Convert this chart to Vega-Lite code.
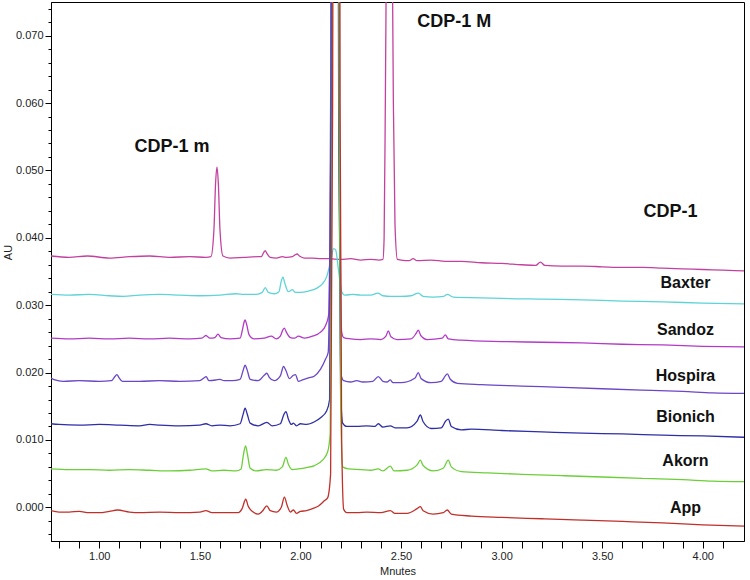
{
"$schema": "https://vega.github.io/schema/vega-lite/v6.json",
"width": 693, "height": 539,
"autosize": "none",
"padding": {"left": 51, "top": 2, "right": 6, "bottom": 39},
"background": "white",
"config": {"view": {"stroke": "black", "strokeWidth": 1}, "font": "Liberation Sans"},
"datasets": {
"traces": [
{"s":"CDP-1","t":0.76,"v":0.0373},{"s":"CDP-1","t":0.85,"v":0.0371},{"s":"CDP-1","t":0.94,"v":0.0373},{"s":"CDP-1","t":1.05,"v":0.0370},{"s":"CDP-1","t":1.15,"v":0.0372},{"s":"CDP-1","t":1.25,"v":0.0373},{"s":"CDP-1","t":1.35,"v":0.0371},{"s":"CDP-1","t":1.45,"v":0.0372},{"s":"CDP-1","t":1.53,"v":0.0371},
{"s":"CDP-1","t":1.555,"v":0.0372},{"s":"CDP-1","t":1.57,"v":0.0412},{"s":"CDP-1","t":1.578,"v":0.048},{"s":"CDP-1","t":1.585,"v":0.0505},{"s":"CDP-1","t":1.592,"v":0.048},{"s":"CDP-1","t":1.6,"v":0.0412},{"s":"CDP-1","t":1.615,"v":0.0373},
{"s":"CDP-1","t":1.65,"v":0.0370},{"s":"CDP-1","t":1.72,"v":0.0371},{"s":"CDP-1","t":1.79,"v":0.0372},{"s":"CDP-1","t":1.805,"v":0.0372},{"s":"CDP-1","t":1.817,"v":0.0378},{"s":"CDP-1","t":1.825,"v":0.0381},{"s":"CDP-1","t":1.833,"v":0.0377},{"s":"CDP-1","t":1.85,"v":0.0371},{"s":"CDP-1","t":1.88,"v":0.0370},{"s":"CDP-1","t":1.91,"v":0.0372},{"s":"CDP-1","t":1.93,"v":0.0371},{"s":"CDP-1","t":1.96,"v":0.0372},{"s":"CDP-1","t":1.975,"v":0.0375},{"s":"CDP-1","t":1.983,"v":0.0376},{"s":"CDP-1","t":1.995,"v":0.0373},{"s":"CDP-1","t":2.02,"v":0.0370},{"s":"CDP-1","t":2.06,"v":0.0370},{"s":"CDP-1","t":2.1,"v":0.0369},{"s":"CDP-1","t":2.14,"v":0.0369},{"s":"CDP-1","t":2.2,"v":0.0368},{"s":"CDP-1","t":2.25,"v":0.0369},{"s":"CDP-1","t":2.3,"v":0.0367},{"s":"CDP-1","t":2.35,"v":0.0368},{"s":"CDP-1","t":2.39,"v":0.0367},
{"s":"CDP-1","t":2.41,"v":0.0368},{"s":"CDP-1","t":2.416,"v":0.040},{"s":"CDP-1","t":2.422,"v":0.060},{"s":"CDP-1","t":2.428,"v":0.085},{"s":"CDP-1","t":2.442,"v":0.13},{"s":"CDP-1","t":2.456,"v":0.085},{"s":"CDP-1","t":2.462,"v":0.060},{"s":"CDP-1","t":2.47,"v":0.042},{"s":"CDP-1","t":2.482,"v":0.0368},
{"s":"CDP-1","t":2.5,"v":0.0367},{"s":"CDP-1","t":2.54,"v":0.0366},{"s":"CDP-1","t":2.56,"v":0.0369},{"s":"CDP-1","t":2.58,"v":0.0366},{"s":"CDP-1","t":2.65,"v":0.0367},{"s":"CDP-1","t":2.72,"v":0.0365},{"s":"CDP-1","t":2.8,"v":0.0365},{"s":"CDP-1","t":2.9,"v":0.0363},{"s":"CDP-1","t":3.0,"v":0.0362},{"s":"CDP-1","t":3.1,"v":0.0360},{"s":"CDP-1","t":3.17,"v":0.0359},{"s":"CDP-1","t":3.193,"v":0.0364},{"s":"CDP-1","t":3.215,"v":0.0359},{"s":"CDP-1","t":3.3,"v":0.0358},{"s":"CDP-1","t":3.4,"v":0.0358},{"s":"CDP-1","t":3.5,"v":0.0357},{"s":"CDP-1","t":3.6,"v":0.0356},{"s":"CDP-1","t":3.7,"v":0.0356},{"s":"CDP-1","t":3.8,"v":0.0355},{"s":"CDP-1","t":3.9,"v":0.0354},{"s":"CDP-1","t":4.0,"v":0.0353},{"s":"CDP-1","t":4.1,"v":0.0352},{"s":"CDP-1","t":4.205,"v":0.0351},

{"s":"Baxter","t":0.76,"v":0.0316},{"s":"Baxter","t":0.85,"v":0.0315},{"s":"Baxter","t":0.95,"v":0.0316},{"s":"Baxter","t":1.05,"v":0.0314},{"s":"Baxter","t":1.12,"v":0.0313},{"s":"Baxter","t":1.2,"v":0.0315},{"s":"Baxter","t":1.3,"v":0.0316},{"s":"Baxter","t":1.4,"v":0.0315},{"s":"Baxter","t":1.5,"v":0.0314},{"s":"Baxter","t":1.6,"v":0.0315},{"s":"Baxter","t":1.68,"v":0.0317},{"s":"Baxter","t":1.72,"v":0.0316},{"s":"Baxter","t":1.78,"v":0.0316},{"s":"Baxter","t":1.81,"v":0.0319},{"s":"Baxter","t":1.825,"v":0.0326},{"s":"Baxter","t":1.84,"v":0.0319},{"s":"Baxter","t":1.87,"v":0.0317},{"s":"Baxter","t":1.893,"v":0.0320},{"s":"Baxter","t":1.905,"v":0.0336},{"s":"Baxter","t":1.913,"v":0.0342},{"s":"Baxter","t":1.921,"v":0.0334},{"s":"Baxter","t":1.94,"v":0.0320},{"s":"Baxter","t":1.96,"v":0.0323},{"s":"Baxter","t":1.975,"v":0.0319},{"s":"Baxter","t":2.0,"v":0.0319},{"s":"Baxter","t":2.04,"v":0.0321},{"s":"Baxter","t":2.08,"v":0.0325},{"s":"Baxter","t":2.11,"v":0.0332},{"s":"Baxter","t":2.13,"v":0.0342},{"s":"Baxter","t":2.15,"v":0.0365},{"s":"Baxter","t":2.165,"v":0.0384},{"s":"Baxter","t":2.175,"v":0.0382},{"s":"Baxter","t":2.19,"v":0.0350},{"s":"Baxter","t":2.205,"v":0.0320},{"s":"Baxter","t":2.22,"v":0.0315},{"s":"Baxter","t":2.26,"v":0.0316},{"s":"Baxter","t":2.3,"v":0.0315},{"s":"Baxter","t":2.35,"v":0.0315},{"s":"Baxter","t":2.385,"v":0.0318},{"s":"Baxter","t":2.41,"v":0.0314},{"s":"Baxter","t":2.45,"v":0.0313},{"s":"Baxter","t":2.5,"v":0.0313},{"s":"Baxter","t":2.55,"v":0.0314},{"s":"Baxter","t":2.586,"v":0.0318},{"s":"Baxter","t":2.61,"v":0.0313},{"s":"Baxter","t":2.66,"v":0.0312},{"s":"Baxter","t":2.71,"v":0.0313},{"s":"Baxter","t":2.73,"v":0.0316},{"s":"Baxter","t":2.76,"v":0.0312},{"s":"Baxter","t":2.9,"v":0.0311},{"s":"Baxter","t":3.0,"v":0.0310},{"s":"Baxter","t":3.2,"v":0.0309},{"s":"Baxter","t":3.4,"v":0.0308},{"s":"Baxter","t":3.6,"v":0.0306},{"s":"Baxter","t":3.8,"v":0.0305},{"s":"Baxter","t":4.0,"v":0.0303},{"s":"Baxter","t":4.205,"v":0.0302},

{"s":"Sandoz","t":0.76,"v":0.0251},{"s":"Sandoz","t":0.85,"v":0.0250},{"s":"Sandoz","t":0.95,"v":0.0251},{"s":"Sandoz","t":1.05,"v":0.0250},{"s":"Sandoz","t":1.15,"v":0.0251},{"s":"Sandoz","t":1.25,"v":0.0250},{"s":"Sandoz","t":1.35,"v":0.0251},{"s":"Sandoz","t":1.45,"v":0.0250},{"s":"Sandoz","t":1.51,"v":0.0251},{"s":"Sandoz","t":1.53,"v":0.0255},{"s":"Sandoz","t":1.55,"v":0.0251},{"s":"Sandoz","t":1.575,"v":0.0252},{"s":"Sandoz","t":1.59,"v":0.0257},{"s":"Sandoz","t":1.605,"v":0.0252},{"s":"Sandoz","t":1.65,"v":0.0250},{"s":"Sandoz","t":1.7,"v":0.0251},{"s":"Sandoz","t":1.712,"v":0.0264},{"s":"Sandoz","t":1.72,"v":0.0275},{"s":"Sandoz","t":1.725,"v":0.0278},{"s":"Sandoz","t":1.732,"v":0.0272},{"s":"Sandoz","t":1.745,"v":0.0256},{"s":"Sandoz","t":1.77,"v":0.0250},{"s":"Sandoz","t":1.82,"v":0.0251},{"s":"Sandoz","t":1.855,"v":0.0254},{"s":"Sandoz","t":1.88,"v":0.0250},{"s":"Sandoz","t":1.9,"v":0.0254},{"s":"Sandoz","t":1.912,"v":0.0263},{"s":"Sandoz","t":1.92,"v":0.0266},{"s":"Sandoz","t":1.93,"v":0.0260},{"s":"Sandoz","t":1.95,"v":0.0252},{"s":"Sandoz","t":1.97,"v":0.0251},{"s":"Sandoz","t":1.99,"v":0.0254},{"s":"Sandoz","t":2.02,"v":0.0251},{"s":"Sandoz","t":2.06,"v":0.0254},{"s":"Sandoz","t":2.1,"v":0.0260},{"s":"Sandoz","t":2.125,"v":0.0270},{"s":"Sandoz","t":2.14,"v":0.0285},{"s":"Sandoz","t":2.152,"v":0.06},{"s":"Sandoz","t":2.165,"v":0.3},{"s":"Sandoz","t":2.18,"v":0.3},{"s":"Sandoz","t":2.195,"v":0.05},{"s":"Sandoz","t":2.205,"v":0.0260},{"s":"Sandoz","t":2.215,"v":0.0252},{"s":"Sandoz","t":2.25,"v":0.0250},{"s":"Sandoz","t":2.3,"v":0.0249},{"s":"Sandoz","t":2.35,"v":0.0250},{"s":"Sandoz","t":2.4,"v":0.0249},{"s":"Sandoz","t":2.425,"v":0.0254},{"s":"Sandoz","t":2.437,"v":0.0262},{"s":"Sandoz","t":2.45,"v":0.0253},{"s":"Sandoz","t":2.48,"v":0.0249},{"s":"Sandoz","t":2.55,"v":0.0250},{"s":"Sandoz","t":2.575,"v":0.0258},{"s":"Sandoz","t":2.586,"v":0.0263},{"s":"Sandoz","t":2.598,"v":0.0255},{"s":"Sandoz","t":2.63,"v":0.0249},{"s":"Sandoz","t":2.705,"v":0.0251},{"s":"Sandoz","t":2.72,"v":0.0256},{"s":"Sandoz","t":2.735,"v":0.0250},{"s":"Sandoz","t":2.8,"v":0.0248},{"s":"Sandoz","t":3.0,"v":0.0246},{"s":"Sandoz","t":3.2,"v":0.0245},{"s":"Sandoz","t":3.4,"v":0.0244},{"s":"Sandoz","t":3.6,"v":0.0242},{"s":"Sandoz","t":3.8,"v":0.0241},{"s":"Sandoz","t":4.0,"v":0.0239},{"s":"Sandoz","t":4.205,"v":0.0238},

{"s":"Hospira","t":0.76,"v":0.0192},{"s":"Hospira","t":0.78,"v":0.0189},{"s":"Hospira","t":0.82,"v":0.0187},{"s":"Hospira","t":0.9,"v":0.0188},{"s":"Hospira","t":1.0,"v":0.0187},{"s":"Hospira","t":1.06,"v":0.0188},{"s":"Hospira","t":1.08,"v":0.0195},{"s":"Hospira","t":1.088,"v":0.0197},{"s":"Hospira","t":1.097,"v":0.0193},{"s":"Hospira","t":1.115,"v":0.0187},{"s":"Hospira","t":1.2,"v":0.0187},{"s":"Hospira","t":1.3,"v":0.0188},{"s":"Hospira","t":1.4,"v":0.0187},{"s":"Hospira","t":1.5,"v":0.0188},{"s":"Hospira","t":1.52,"v":0.0192},{"s":"Hospira","t":1.531,"v":0.0194},{"s":"Hospira","t":1.545,"v":0.0188},{"s":"Hospira","t":1.58,"v":0.0189},{"s":"Hospira","t":1.6,"v":0.0190},{"s":"Hospira","t":1.62,"v":0.0188},{"s":"Hospira","t":1.66,"v":0.0188},{"s":"Hospira","t":1.7,"v":0.0190},{"s":"Hospira","t":1.715,"v":0.0203},{"s":"Hospira","t":1.725,"v":0.0211},{"s":"Hospira","t":1.735,"v":0.0204},{"s":"Hospira","t":1.75,"v":0.0190},{"s":"Hospira","t":1.79,"v":0.0188},{"s":"Hospira","t":1.82,"v":0.0196},{"s":"Hospira","t":1.833,"v":0.0199},{"s":"Hospira","t":1.845,"v":0.0193},{"s":"Hospira","t":1.87,"v":0.0188},{"s":"Hospira","t":1.9,"v":0.0195},{"s":"Hospira","t":1.916,"v":0.0209},{"s":"Hospira","t":1.928,"v":0.0203},{"s":"Hospira","t":1.945,"v":0.0191},{"s":"Hospira","t":1.965,"v":0.0196},{"s":"Hospira","t":1.975,"v":0.0197},{"s":"Hospira","t":1.99,"v":0.0187},{"s":"Hospira","t":2.01,"v":0.0189},{"s":"Hospira","t":2.04,"v":0.0192},{"s":"Hospira","t":2.07,"v":0.0195},{"s":"Hospira","t":2.1,"v":0.0205},{"s":"Hospira","t":2.125,"v":0.0220},{"s":"Hospira","t":2.138,"v":0.0230},{"s":"Hospira","t":2.15,"v":0.06},{"s":"Hospira","t":2.162,"v":0.3},{"s":"Hospira","t":2.178,"v":0.3},{"s":"Hospira","t":2.19,"v":0.06},{"s":"Hospira","t":2.2,"v":0.0200},{"s":"Hospira","t":2.215,"v":0.0188},{"s":"Hospira","t":2.25,"v":0.0186},{"s":"Hospira","t":2.28,"v":0.0188},{"s":"Hospira","t":2.31,"v":0.0186},{"s":"Hospira","t":2.36,"v":0.0187},{"s":"Hospira","t":2.387,"v":0.0194},{"s":"Hospira","t":2.41,"v":0.0187},{"s":"Hospira","t":2.43,"v":0.0186},{"s":"Hospira","t":2.447,"v":0.0189},{"s":"Hospira","t":2.46,"v":0.0185},{"s":"Hospira","t":2.5,"v":0.0185},{"s":"Hospira","t":2.57,"v":0.0192},{"s":"Hospira","t":2.586,"v":0.0200},{"s":"Hospira","t":2.6,"v":0.0191},{"s":"Hospira","t":2.65,"v":0.0185},{"s":"Hospira","t":2.7,"v":0.0187},{"s":"Hospira","t":2.72,"v":0.0195},{"s":"Hospira","t":2.73,"v":0.0198},{"s":"Hospira","t":2.745,"v":0.0190},{"s":"Hospira","t":2.78,"v":0.0184},{"s":"Hospira","t":2.9,"v":0.0182},{"s":"Hospira","t":3.1,"v":0.0180},{"s":"Hospira","t":3.3,"v":0.0178},{"s":"Hospira","t":3.5,"v":0.0176},{"s":"Hospira","t":3.7,"v":0.0174},{"s":"Hospira","t":3.9,"v":0.0172},{"s":"Hospira","t":4.05,"v":0.0170},{"s":"Hospira","t":4.205,"v":0.0169},

{"s":"Bionich","t":0.76,"v":0.0124},{"s":"Bionich","t":0.8,"v":0.0123},{"s":"Bionich","t":0.9,"v":0.0122},{"s":"Bionich","t":1.0,"v":0.0123},{"s":"Bionich","t":1.1,"v":0.0122},{"s":"Bionich","t":1.2,"v":0.0121},{"s":"Bionich","t":1.25,"v":0.0123},{"s":"Bionich","t":1.3,"v":0.0122},{"s":"Bionich","t":1.4,"v":0.0121},{"s":"Bionich","t":1.5,"v":0.0122},{"s":"Bionich","t":1.53,"v":0.0124},{"s":"Bionich","t":1.56,"v":0.0121},{"s":"Bionich","t":1.6,"v":0.0122},{"s":"Bionich","t":1.65,"v":0.0121},{"s":"Bionich","t":1.7,"v":0.0124},{"s":"Bionich","t":1.715,"v":0.0138},{"s":"Bionich","t":1.725,"v":0.0147},{"s":"Bionich","t":1.735,"v":0.0139},{"s":"Bionich","t":1.75,"v":0.0125},{"s":"Bionich","t":1.79,"v":0.0121},{"s":"Bionich","t":1.833,"v":0.0126},{"s":"Bionich","t":1.86,"v":0.0121},{"s":"Bionich","t":1.9,"v":0.0124},{"s":"Bionich","t":1.918,"v":0.0138},{"s":"Bionich","t":1.928,"v":0.0142},{"s":"Bionich","t":1.94,"v":0.0131},{"s":"Bionich","t":1.955,"v":0.0123},{"s":"Bionich","t":1.965,"v":0.0125},{"s":"Bionich","t":1.98,"v":0.0121},{"s":"Bionich","t":2.0,"v":0.0124},{"s":"Bionich","t":2.03,"v":0.0123},{"s":"Bionich","t":2.07,"v":0.0127},{"s":"Bionich","t":2.1,"v":0.0133},{"s":"Bionich","t":2.13,"v":0.0143},{"s":"Bionich","t":2.145,"v":0.0160},{"s":"Bionich","t":2.155,"v":0.06},{"s":"Bionich","t":2.167,"v":0.3},{"s":"Bionich","t":2.18,"v":0.3},{"s":"Bionich","t":2.19,"v":0.06},{"s":"Bionich","t":2.2,"v":0.0170},{"s":"Bionich","t":2.21,"v":0.0125},{"s":"Bionich","t":2.23,"v":0.0120},{"s":"Bionich","t":2.28,"v":0.0120},{"s":"Bionich","t":2.33,"v":0.0121},{"s":"Bionich","t":2.37,"v":0.0120},{"s":"Bionich","t":2.387,"v":0.0124},{"s":"Bionich","t":2.41,"v":0.0119},{"s":"Bionich","t":2.447,"v":0.0121},{"s":"Bionich","t":2.47,"v":0.0118},{"s":"Bionich","t":2.53,"v":0.0118},{"s":"Bionich","t":2.58,"v":0.0128},{"s":"Bionich","t":2.596,"v":0.0137},{"s":"Bionich","t":2.61,"v":0.0127},{"s":"Bionich","t":2.65,"v":0.0117},{"s":"Bionich","t":2.7,"v":0.0118},{"s":"Bionich","t":2.722,"v":0.0128},{"s":"Bionich","t":2.735,"v":0.0131},{"s":"Bionich","t":2.75,"v":0.0120},{"s":"Bionich","t":2.8,"v":0.0115},{"s":"Bionich","t":2.85,"v":0.0116},{"s":"Bionich","t":3.0,"v":0.0114},{"s":"Bionich","t":3.2,"v":0.0112},{"s":"Bionich","t":3.4,"v":0.0110},{"s":"Bionich","t":3.6,"v":0.0109},{"s":"Bionich","t":3.8,"v":0.0107},{"s":"Bionich","t":4.0,"v":0.0106},{"s":"Bionich","t":4.205,"v":0.0104},

{"s":"Akorn","t":0.76,"v":0.0057},{"s":"Akorn","t":0.85,"v":0.0056},{"s":"Akorn","t":0.95,"v":0.0056},{"s":"Akorn","t":1.05,"v":0.0055},{"s":"Akorn","t":1.15,"v":0.0056},{"s":"Akorn","t":1.25,"v":0.0055},{"s":"Akorn","t":1.35,"v":0.0054},{"s":"Akorn","t":1.45,"v":0.0055},{"s":"Akorn","t":1.53,"v":0.0057},{"s":"Akorn","t":1.56,"v":0.0054},{"s":"Akorn","t":1.62,"v":0.0055},{"s":"Akorn","t":1.68,"v":0.0054},{"s":"Akorn","t":1.705,"v":0.0057},{"s":"Akorn","t":1.715,"v":0.0075},{"s":"Akorn","t":1.727,"v":0.0091},{"s":"Akorn","t":1.737,"v":0.0078},{"s":"Akorn","t":1.75,"v":0.0058},{"s":"Akorn","t":1.78,"v":0.0054},{"s":"Akorn","t":1.83,"v":0.0056},{"s":"Akorn","t":1.88,"v":0.0055},{"s":"Akorn","t":1.91,"v":0.0060},{"s":"Akorn","t":1.928,"v":0.0074},{"s":"Akorn","t":1.94,"v":0.0064},{"s":"Akorn","t":1.96,"v":0.0056},{"s":"Akorn","t":1.99,"v":0.0057},{"s":"Akorn","t":2.03,"v":0.0059},{"s":"Akorn","t":2.07,"v":0.0062},{"s":"Akorn","t":2.11,"v":0.0070},{"s":"Akorn","t":2.135,"v":0.0082},{"s":"Akorn","t":2.148,"v":0.0110},{"s":"Akorn","t":2.158,"v":0.06},{"s":"Akorn","t":2.17,"v":0.3},{"s":"Akorn","t":2.182,"v":0.3},{"s":"Akorn","t":2.192,"v":0.06},{"s":"Akorn","t":2.2,"v":0.0150},{"s":"Akorn","t":2.21,"v":0.0060},{"s":"Akorn","t":2.24,"v":0.0057},{"s":"Akorn","t":2.3,"v":0.0056},{"s":"Akorn","t":2.35,"v":0.0055},{"s":"Akorn","t":2.387,"v":0.0057},{"s":"Akorn","t":2.41,"v":0.0054},{"s":"Akorn","t":2.447,"v":0.0061},{"s":"Akorn","t":2.465,"v":0.0054},{"s":"Akorn","t":2.53,"v":0.0055},{"s":"Akorn","t":2.58,"v":0.0063},{"s":"Akorn","t":2.596,"v":0.0070},{"s":"Akorn","t":2.61,"v":0.0062},{"s":"Akorn","t":2.66,"v":0.0054},{"s":"Akorn","t":2.71,"v":0.0058},{"s":"Akorn","t":2.735,"v":0.0070},{"s":"Akorn","t":2.75,"v":0.0060},{"s":"Akorn","t":2.8,"v":0.0053},{"s":"Akorn","t":2.93,"v":0.0051},{"s":"Akorn","t":3.1,"v":0.0049},{"s":"Akorn","t":3.3,"v":0.0047},{"s":"Akorn","t":3.5,"v":0.0045},{"s":"Akorn","t":3.7,"v":0.0043},{"s":"Akorn","t":3.9,"v":0.0041},{"s":"Akorn","t":4.05,"v":0.0039},{"s":"Akorn","t":4.205,"v":0.0038},

{"s":"App","t":0.76,"v":-0.0005},{"s":"App","t":0.8,"v":-0.0007},{"s":"App","t":0.85,"v":-0.0007},{"s":"App","t":0.9,"v":-0.0006},{"s":"App","t":0.95,"v":-0.0008},{"s":"App","t":1.0,"v":-0.0008},{"s":"App","t":1.05,"v":-0.0006},{"s":"App","t":1.09,"v":-0.0004},{"s":"App","t":1.15,"v":-0.0007},{"s":"App","t":1.2,"v":-0.0008},{"s":"App","t":1.3,"v":-0.0007},{"s":"App","t":1.4,"v":-0.0008},{"s":"App","t":1.5,"v":-0.0007},{"s":"App","t":1.53,"v":-0.0005},{"s":"App","t":1.56,"v":-0.0008},{"s":"App","t":1.62,"v":-0.0008},{"s":"App","t":1.69,"v":-0.0008},{"s":"App","t":1.71,"v":-0.0002},{"s":"App","t":1.728,"v":0.0012},{"s":"App","t":1.74,"v":0.0002},{"s":"App","t":1.76,"v":-0.0006},{"s":"App","t":1.79,"v":-0.0010},{"s":"App","t":1.81,"v":-0.0006},{"s":"App","t":1.833,"v":0.0002},{"s":"App","t":1.85,"v":-0.0005},{"s":"App","t":1.88,"v":-0.0007},{"s":"App","t":1.905,"v":0.0000},{"s":"App","t":1.92,"v":0.0015},{"s":"App","t":1.935,"v":0.0002},{"s":"App","t":1.95,"v":-0.0007},{"s":"App","t":1.965,"v":-0.0004},{"s":"App","t":1.98,"v":-0.0009},{"s":"App","t":2.0,"v":-0.0006},{"s":"App","t":2.03,"v":-0.0005},{"s":"App","t":2.06,"v":-0.0002},{"s":"App","t":2.09,"v":0.0002},{"s":"App","t":2.12,"v":0.0010},{"s":"App","t":2.135,"v":0.0014},{"s":"App","t":2.15,"v":0.005},{"s":"App","t":2.16,"v":0.06},{"s":"App","t":2.172,"v":0.3},{"s":"App","t":2.185,"v":0.3},{"s":"App","t":2.197,"v":0.06},{"s":"App","t":2.205,"v":0.0100},{"s":"App","t":2.215,"v":-0.0003},{"s":"App","t":2.23,"v":-0.0008},{"s":"App","t":2.28,"v":-0.0008},{"s":"App","t":2.33,"v":-0.0007},{"s":"App","t":2.4,"v":-0.0008},{"s":"App","t":2.447,"v":-0.0005},{"s":"App","t":2.47,"v":-0.0009},{"s":"App","t":2.53,"v":-0.0009},{"s":"App","t":2.58,"v":-0.0002},{"s":"App","t":2.596,"v":0.0001},{"s":"App","t":2.61,"v":-0.0005},{"s":"App","t":2.66,"v":-0.0010},{"s":"App","t":2.71,"v":-0.0008},{"s":"App","t":2.73,"v":-0.0004},{"s":"App","t":2.75,"v":-0.0010},{"s":"App","t":2.85,"v":-0.0013},{"s":"App","t":3.0,"v":-0.0015},{"s":"App","t":3.2,"v":-0.0017},{"s":"App","t":3.4,"v":-0.0019},{"s":"App","t":3.6,"v":-0.0021},{"s":"App","t":3.8,"v":-0.0023},{"s":"App","t":4.0,"v":-0.0026},{"s":"App","t":4.205,"v":-0.0028}
],
"peaklabels": [
{"t":1.362,"v":0.0535,"label":"CDP-1 m"},
{"t":2.765,"v":0.0720,"label":"CDP-1 M"},
{"t":3.84,"v":0.0438,"label":"CDP-1"}
],
"tracelabels": [
{"t":3.914,"v":0.0333,"label":"Baxter"},
{"t":3.914,"v":0.0263,"label":"Sandoz"},
{"t":3.914,"v":0.0195,"label":"Hospira"},
{"t":3.914,"v":0.0134,"label":"Bionich"},
{"t":3.914,"v":0.0068,"label":"Akorn"},
{"t":3.914,"v":-0.0001,"label":"App"}
]
},
"resolve": {"axis": {"x": "independent", "y": "independent"}},
"layer": [
{
"data": {"name": "traces"},
"mark": {"type": "line", "strokeWidth": 1.3, "clip": true, "interpolate": "monotone"},
"encoding": {
"x": {"field": "t", "type": "quantitative",
 "scale": {"domain": [0.76, 4.205], "nice": false, "zero": false},
 "axis": {"orient": "bottom", "title": "Mnutes", "values": [1.0,1.5,2.0,2.5,3.0,3.5,4.0], "format": ".2f",
  "grid": false, "domainColor": "black", "tickColor": "black", "tickSize": 7, "labelFontSize": 11, "labelColor": "#222", "labelPadding": 2, "labelFlush": false,
  "titleFontSize": 11, "titleFontWeight": "normal", "titleColor": "#222", "titlePadding": 4}},
"y": {"field": "v", "type": "quantitative",
 "scale": {"domain": [-0.005, 0.075], "nice": false, "zero": false},
 "axis": {"orient": "left", "title": "AU", "values": [0,0.01,0.02,0.03,0.04,0.05,0.06,0.07], "format": ".3f",
  "grid": false, "domainColor": "black", "tickColor": "black", "tickSize": 6, "labelFontSize": 11, "labelColor": "#222", "labelPadding": 2, "labelFlush": false,
  "titleFontSize": 11, "titleFontWeight": "normal", "titleColor": "#222", "titleX": -43, "titleY": 250, "titleAngle": 270, "titleAlign": "center", "titleBaseline": "middle"}},
"color": {"field": "s", "type": "nominal", "legend": null,
 "scale": {"domain": ["CDP-1","Baxter","Sandoz","Hospira","Bionich","Akorn","App"],
  "range": ["#c2419f","#5fd3d8","#b23ac6","#6a46c8","#2e2ea8","#6ccf3a","#c0302a"]}}
}
},
{
"data": {"name": "peaklabels"},
"mark": {"type": "text", "font": "Liberation Sans", "fontWeight": "bold", "fontSize": 18, "color": "#111", "align": "center", "baseline": "middle"},
"encoding": {"x": {"field": "t", "type": "quantitative", "axis": null}, "y": {"field": "v", "type": "quantitative", "axis": null}, "text": {"field": "label"}}
},
{
"data": {"name": "tracelabels"},
"mark": {"type": "text", "font": "Liberation Sans", "fontWeight": "bold", "fontSize": 16, "color": "#111", "align": "center", "baseline": "middle"},
"encoding": {
"x": {"field": "t", "type": "quantitative",
 "axis": {"orient": "bottom", "title": null, "labels": false, "domain": false, "grid": false, "tickColor": "black", "tickSize": 7,
  "values": [0.8,0.9,1.1,1.2,1.3,1.4,1.6,1.7,1.8,1.9,2.1,2.2,2.3,2.4,2.6,2.7,2.8,2.9,3.1,3.2,3.3,3.4,3.6,3.7,3.8,3.9,4.1]}},
"y": {"field": "v", "type": "quantitative",
 "axis": {"orient": "left", "title": null, "labels": false, "domain": false, "grid": false, "tickColor": "black", "tickSize": 3,
  "values": [-0.004,-0.002,0.002,0.004,0.006,0.008,0.012,0.014,0.016,0.018,0.022,0.024,0.026,0.028,0.032,0.034,0.036,0.038,0.042,0.044,0.046,0.048,0.052,0.054,0.056,0.058,0.062,0.064,0.066,0.068,0.072,0.074]}},
"text": {"field": "label"}}
}
]
}
